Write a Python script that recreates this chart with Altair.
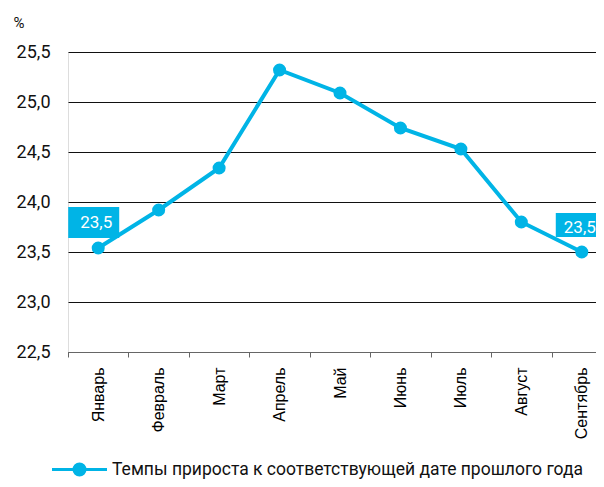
import altair as alt
import pandas as pd

months = ["Январь", "Февраль", "Март", "Апрель", "Май", "Июнь", "Июль", "Август", "Сентябрь"]
values = [23.54, 23.92, 24.34, 25.32, 25.09, 24.74, 24.53, 23.80, 23.50]
series_name = "Темпы прироста к соответствующей дате прошлого года"
y_ticks = [22.5, 23.0, 23.5, 24.0, 24.5, 25.0, 25.5]
callout_months = ["Январь", "Сентябрь"]

CYAN = "#00B4E6"

df = pd.DataFrame({"month": months, "value": values, "series": series_name})

x_enc = alt.X("month:N", sort=months,
              scale=alt.Scale(type="band", domain=months, range=[0, 544],
                              paddingInner=0, paddingOuter=0),
              axis=alt.Axis(title=None, labelAngle=-90, tickBand="extent",
                            ticks=True, tickSize=5, tickColor="#666",
                            domainColor="#666", grid=False,
                            labelFont="Liberation Sans", labelFontSize=16,
                            labelColor="#000", labelPadding=10))
x_plain = alt.X("month:N", sort=months)

y_enc = alt.Y("value:Q",
              scale=alt.Scale(domain=[22.5, 25.5], zero=False, nice=False),
              axis=alt.Axis(values=y_ticks,
                            labelExpr="replace(format(datum.value, '.1f'), '.', ',')",
                            grid=True, gridColor="#111", gridWidth=1,
                            ticks=False, domain=False,
                            labelFont="Roboto", labelFontSize=18, labelColor="#111",
                            labelPadding=18,
                            title="%", titleAngle=0, titleX=-55, titleY=-25,
                            titleAlign="left", titleBaseline="alphabetic",
                            titleFont="Roboto", titleFontSize=15,
                            titleFontWeight="normal", titleColor="#111"))

base = alt.Chart(df)

line = base.mark_line(color=CYAN, strokeWidth=4).encode(x=x_enc, y=y_enc)

pts = base.mark_point(filled=True, size=170, opacity=1).encode(
    x=x_plain, y="value:Q",
    color=alt.Color("series:N", scale=alt.Scale(range=[CYAN]),
                    legend=alt.Legend(title=None, orient="none",
                                      legendX=-1, legendY=405,
                                      symbolType="M -2.5 0 L 2.5 0 M 0.5 0 A 0.5 0.5 0 1 1 -0.5 0 A 0.5 0.5 0 1 1 0.5 0 Z",
                                      symbolSize=484, symbolStrokeWidth=3,
                                      symbolStrokeColor=CYAN, symbolFillColor=CYAN,
                                      labelFont="Roboto", labelFontSize=17.5,
                                      labelColor="#111", labelLimit=0,
                                      labelOffset=20, padding=0)))

def callout(month, box_w, box_dx, y_top, y_bot, tx, ty):
    sub = base.transform_filter(alt.FieldEqualPredicate(field="month", equal=month))
    box = sub.mark_bar(color=CYAN, width=box_w, xOffset=box_dx,
                       yOffset=y_top, y2Offset=y_bot).encode(
        x=x_plain, y="value:Q", y2="value:Q")
    txt = sub.transform_calculate(
        label="replace(format(datum.value, '.1f'), '.', ',')"
    ).mark_text(color="white", font="Roboto", fontSize=17,
                align="center", baseline="middle",
                xOffset=tx, yOffset=ty).encode(
        x=x_plain, y="value:Q", text="label:N")
    return box, txt

b1, t1 = callout(callout_months[0], 51, -4.5, -41, -10, -2, -25)
b2, t2 = callout(callout_months[1], 52, 0, -39, -15, -2, -24)

chart = alt.layer(line, pts, b1, t1, b2, t2).properties(
    width=528, height=300,
    autosize=alt.AutoSizeParams(type="none"),
    padding={"left": 60, "top": 44, "right": 0, "bottom": 127},
).configure_view(stroke=None).configure(background="white")

chart.save("out.html", embed_options={"renderer": "svg", "actions": False})
